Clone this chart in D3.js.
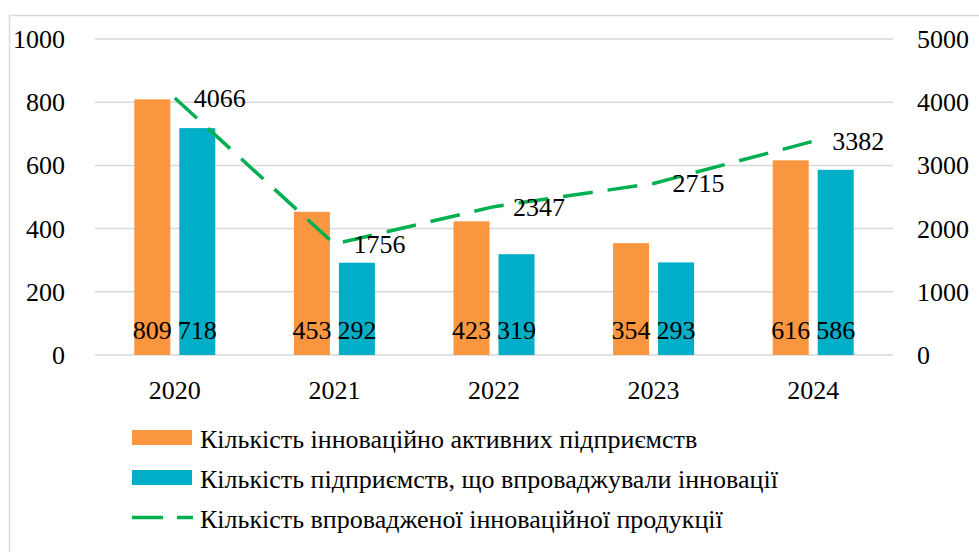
<!DOCTYPE html>
<html>
<head>
<meta charset="utf-8">
<script src="https://cdn.jsdelivr.net/npm/d3@7"></script>
<style>
  body { margin: 0; background: #fff; }
</style>
</head>
<body>
<div id="chart"></div>
<script>
var width = 979;
var height = 552;
var font = "'Liberation Serif', 'Times New Roman', 'DejaVu Serif', serif";

// data
var years = ['2020', '2021', '2022', '2023', '2024'];
var activeEnterprises = [809, 453, 423, 354, 616];
var implementingEnterprises = [718, 292, 319, 293, 586];
var innovativeProducts = [4066, 1756, 2347, 2715, 3382];
var leftTicks = [0, 200, 400, 600, 800, 1000];
var rightTicks = [0, 1000, 2000, 3000, 4000, 5000];
var seriesNames = [
  'Кількість інноваційно активних підприємств',
  'Кількість підприємств, що впроваджували інновації',
  'Кількість впровадженої інноваційної продукції'
];

var orange = '#F9963F', blue = '#00AFC7', green = '#00B050';

var plot = {left: 95, right: 893, top: 39, bottom: 355};

var svg = d3.select('#chart').append('svg')
    .attr('width', width)
    .attr('height', height)
    .attr('font-family', font);

// outer frame (goes past the right/bottom of the picture)
svg.append('rect')
    .attr('x', 9.5).attr('y', 15.5)
    .attr('width', 1000).attr('height', 600)
    .attr('fill', 'none')
    .attr('stroke', '#d9d9d9')
    .attr('stroke-width', 1.5);

var x = d3.scaleBand()
    .domain(years)
    .range([plot.left, plot.right]);

var yLeft = d3.scaleLinear().domain([0, 1000]).range([plot.bottom, plot.top]);
var yRight = d3.scaleLinear().domain([0, 5000]).range([plot.bottom, plot.top]);

// gridlines
svg.append('g').selectAll('line')
    .data(leftTicks)
    .enter().append('line')
    .attr('x1', plot.left).attr('x2', plot.right)
    .attr('y1', function(d) { return yLeft(d); })
    .attr('y2', function(d) { return yLeft(d); })
    .attr('stroke', '#d9d9d9')
    .attr('stroke-width', 1.5);

// left axis labels
svg.append('g').selectAll('text')
    .data(leftTicks)
    .enter().append('text')
    .attr('x', 65)
    .attr('y', function(d) { return yLeft(d) + 9; })
    .attr('text-anchor', 'end')
    .attr('font-size', 26)
    .text(function(d) { return d; });

// right axis labels
svg.append('g').selectAll('text')
    .data(rightTicks)
    .enter().append('text')
    .attr('x', 917)
    .attr('y', function(d) { return yRight(d) + 9; })
    .attr('text-anchor', 'start')
    .attr('font-size', 26)
    .text(function(d) { return d; });

// x labels
svg.append('g').selectAll('text')
    .data(years)
    .enter().append('text')
    .attr('x', function(d) { return x(d) + x.bandwidth() / 2; })
    .attr('y', 399)
    .attr('text-anchor', 'middle')
    .attr('font-size', 26)
    .text(function(d) { return d; });

var barW = 36, barGap = 9;

function drawBars(values, color, offset) {
  var g = svg.append('g');
  g.selectAll('rect')
    .data(values)
    .enter().append('rect')
    .attr('x', function(d, i) { return x(years[i]) + x.bandwidth() / 2 + offset; })
    .attr('y', function(d) { return yLeft(d); })
    .attr('width', barW)
    .attr('height', function(d) { return yLeft(0) - yLeft(d); })
    .attr('fill', color);
  g.selectAll('text')
    .data(values)
    .enter().append('text')
    .attr('x', function(d, i) { return x(years[i]) + x.bandwidth() / 2 + offset + barW / 2; })
    .attr('y', 339)
    .attr('text-anchor', 'middle')
    .attr('font-size', 26)
    .text(function(d) { return d; });
}

drawBars(activeEnterprises, orange, -barW - barGap / 2);
drawBars(implementingEnterprises, blue, barGap / 2);

// dashed line on right axis
var line = d3.line()
    .x(function(d, i) { return x(years[i]) + x.bandwidth() / 2; })
    .y(function(d) { return yRight(d); });

svg.append('path')
    .datum(innovativeProducts)
    .attr('d', line)
    .attr('fill', 'none')
    .attr('stroke', green)
    .attr('stroke-width', 3.5)
    .attr('stroke-dasharray', '30,15');

svg.append('g').selectAll('text')
    .data(innovativeProducts)
    .enter().append('text')
    .attr('x', function(d, i) { return x(years[i]) + x.bandwidth() / 2 + 19; })
    .attr('y', function(d) { return yRight(d) + 9; })
    .attr('font-size', 26)
    .text(function(d) { return d; });

// legend
var legend = svg.append('g')
    .selectAll('g')
    .data(seriesNames)
    .enter().append('g')
    .attr('transform', function(d, i) { return 'translate(132,' + (437.5 + i * 40) + ')'; });

legend.filter(function(d, i) { return i < 2; })
    .append('rect')
    .attr('x', 0).attr('y', -7.5)
    .attr('width', 60).attr('height', 15)
    .attr('fill', function(d, i) { return i === 0 ? orange : blue; });

legend.filter(function(d, i) { return i === 2; })
    .append('line')
    .attr('x1', 0).attr('x2', 61)
    .attr('y1', 0).attr('y2', 0)
    .attr('stroke', green)
    .attr('stroke-width', 3.5)
    .attr('stroke-dasharray', '31,14');

legend.append('text')
    .attr('x', 68)
    .attr('y', 10)
    .attr('font-size', 26)
    .text(function(d) { return d; });
</script>
</body>
</html>
